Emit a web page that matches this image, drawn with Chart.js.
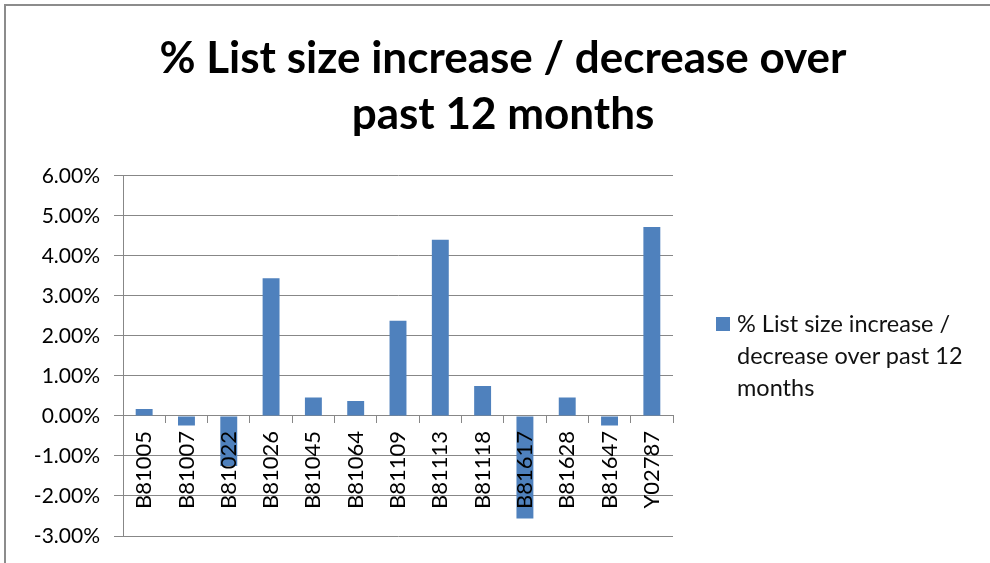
<!DOCTYPE html>
<html>
<head>
<meta charset="utf-8">
<script src="https://cdn.jsdelivr.net/npm/chart.js@4/dist/chart.umd.min.js"></script>
<style>
  html, body { margin: 0; padding: 0; background: #fff; }
  #wrap { position: relative; width: 990px; height: 563px; overflow: hidden; }
  #frame { position: absolute; left: 4px; top: 4px; width: 1000px; height: 600px;
           border-left: 2px solid #8c8c8c; border-top: 2px solid #8c8c8c; box-sizing: border-box; }
  #legend { position: absolute; left: 716px; top: 307px; width: 262px;
            font-family: Lato, sans-serif; font-size: 23.5px; line-height: 32px; color: #111; }
  #legend .box { position: absolute; left: 0; top: 10px; width: 14px; height: 14px; }
  #legend .txt { margin-left: 21px; }
</style>
</head>
<body>
<div id="wrap">
  <div id="frame"></div>
  <canvas id="chart"></canvas>
  <div id="legend"><span class="box"></span><div class="txt"></div></div>
</div>
<script>
// practice codes on the x axis
const practices = ["B81005", "B81007", "B81022", "B81026", "B81045", "B81064", "B81109",
                   "B81113", "B81118", "B81617", "B81628", "B81647", "Y02787"];
// % change in list size
const changePct = [0.17, -0.24, -1.25, 3.44, 0.46, 0.37, 2.38, 4.40, 0.75, -2.56, 0.46, -0.24, 4.72];
const seriesName = "% List size increase / decrease over past 12 months";
const titleLines = ["% List size increase / decrease over", "past 12 months"];
const yMin = -3;
const yMax = 6;
const yStep = 1;

const barColor = "#4f81bd";
const gridColor = "#878787";

document.querySelector("#legend .box").style.background = barColor;
document.querySelector("#legend .txt").textContent = seriesName;

const ctx = document.getElementById("chart").getContext("2d");
ctx.canvas.width = 990;
ctx.canvas.height = 563;

new Chart(ctx, {
  type: "bar",
  data: {
    labels: practices,
    datasets: [
      {
        label: seriesName,
        data: changePct,
        backgroundColor: barColor,
        borderWidth: 0,
        barPercentage: 0.4,
        categoryPercentage: 1.0,
      },
    ],
  },
  options: {
    responsive: false,
    animation: false,
    layout: { padding: { left: 16, right: 0, top: 0, bottom: 27 } },
    plugins: {
      legend: { display: false },
      tooltip: { enabled: false },
      title: {
        display: true,
        text: titleLines,
        color: "#000",
        font: { family: "Lato", size: 44, weight: "bold", lineHeight: 1.27 },
        padding: { top: 31, bottom: 33 },
      },
    },
    scales: {
      x: {
        position: { y: 0 }, // axis sits on the zero line, like Excel
        grid: { display: true, drawOnChartArea: false, offset: true, tickLength: 7, color: gridColor },
        border: { color: gridColor },
        ticks: {
          z: 1, // labels drawn over the bars
          autoSkip: false,
          minRotation: 90,
          maxRotation: 90,
          padding: 8,
          color: "#000",
          font: { family: "Lato", size: 22 },
        },
      },
      y: {
        min: yMin,
        max: yMax,
        afterFit: (scale) => { scale.width = 107; },
        grid: { color: gridColor, tickLength: 9 },
        border: { color: gridColor },
        ticks: {
          stepSize: yStep,
          padding: 14,
          color: "#000",
          font: { family: "Lato", size: 21 },
          callback: (v) => v.toFixed(2) + "%",
        },
      },
      // empty axis that keeps room on the right for the legend
      side: {
        type: "linear",
        position: "right",
        afterFit: (scale) => { scale.width = 317; },
        grid: { display: false },
        border: { display: false },
        ticks: { display: false },
      },
    },
  },
});
</script>
</body>
</html>
